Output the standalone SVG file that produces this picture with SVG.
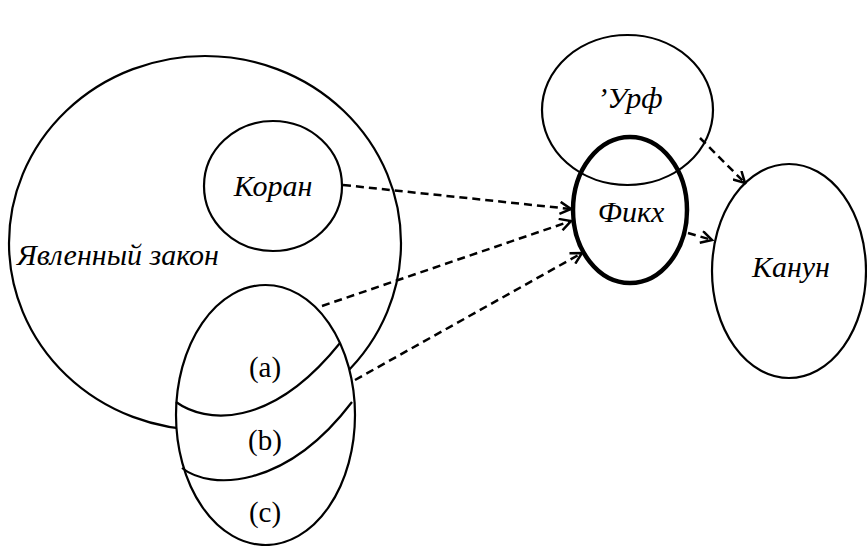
<svg xmlns="http://www.w3.org/2000/svg" width="867" height="546" viewBox="0 0 867 546">
<style>
.sh{fill:none;stroke:#000;stroke-width:2.2}
.wf{fill:#fff;stroke:#000;stroke-width:2.2}
.thick{fill:none;stroke:#000;stroke-width:4.5}
.lbl{font-family:"Liberation Serif","Times New Roman",serif;font-style:italic;font-size:30px;fill:#000}
.up{font-family:"Liberation Serif","Times New Roman",serif;font-size:29px;fill:#000}
.con{fill:none;stroke:#000;stroke-width:2.5;stroke-dasharray:8 5}
</style>
<defs>
<marker id="arr" markerUnits="userSpaceOnUse" markerWidth="14" markerHeight="14" refX="12" refY="7" orient="auto" viewBox="0 0 14 14">
<path d="M1,1 L12,7 L1,13" fill="none" stroke="#000" stroke-width="2.5"/>
</marker>
</defs>
<g id="revealed-law">
<ellipse class="sh" cx="205" cy="243" rx="196" ry="187"/>
<text class="lbl" x="17" y="265">Явленный закон</text>
</g>
<g id="koran">
<ellipse class="wf" cx="273" cy="186" rx="69" ry="65"/>
<text class="lbl" x="273" y="196" text-anchor="middle">Коран</text>
</g>
<g id="sources">
<ellipse class="wf" cx="265.5" cy="415" rx="89.5" ry="130"/>
<path class="sh" d="M176,402 C205,423 270,430 340,343"/>
<path class="sh" d="M182,468 C210,490 285,490 352,402"/>
<text class="up" x="265" y="377" text-anchor="middle">(a)</text>
<text class="up" x="265" y="450" text-anchor="middle">(b)</text>
<text class="up" x="265" y="522" text-anchor="middle">(c)</text>
</g>
<g id="urf">
<ellipse class="sh" cx="627.5" cy="110" rx="85.5" ry="75"/>
<text class="lbl" x="630" y="108" text-anchor="middle">’Урф</text>
</g>
<g id="fiqh">
<ellipse class="thick" cx="630" cy="210" rx="57" ry="73"/>
<text class="lbl" x="631" y="222" text-anchor="middle">Фикх</text>
</g>
<g id="kanun">
<ellipse class="sh" cx="789" cy="271" rx="77" ry="107"/>
<text class="lbl" x="791" y="277" text-anchor="middle">Канун</text>
</g>
<g id="connectors">
<line class="con" x1="343" y1="185" x2="571" y2="209" marker-end="url(#arr)"/>
<line class="con" x1="322" y1="306" x2="571" y2="221" marker-end="url(#arr)"/>
<line class="con" x1="355" y1="380" x2="582" y2="253" marker-end="url(#arr)"/>
<line class="con" x1="700" y1="138" x2="745" y2="183" marker-end="url(#arr)"/>
<line class="con" x1="688" y1="233" x2="712" y2="240" marker-end="url(#arr)"/>
</g>
</svg>
